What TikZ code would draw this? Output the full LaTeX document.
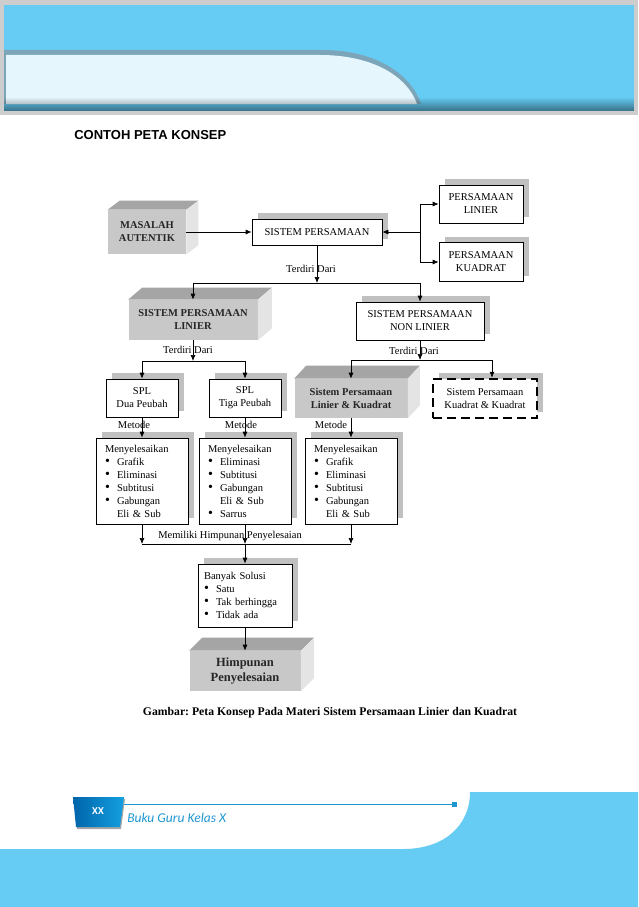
\documentclass[tikz,border=0pt]{standalone}
\usepackage{fontspec}
\setmainfont{Liberation Serif}
\newfontfamily\titlefont{Liberation Sans}
\newfontfamily\footfont{Carlito}
\usetikzlibrary{arrows.meta,shadows,fadings}
\definecolor{headblue}{RGB}{102,204,244}
\definecolor{headpale}{RGB}{230,246,253}
\definecolor{headedge}{RGB}{125,165,185}
\definecolor{framegray}{RGB}{205,205,205}
\definecolor{shadowgray}{RGB}{192,192,192}
\definecolor{cubefront}{RGB}{200,200,200}
\definecolor{cubetop}{RGB}{165,165,165}
\definecolor{cubeside}{RGB}{228,228,228}
\definecolor{badgedark}{RGB}{0,100,170}
\definecolor{badgelight}{RGB}{20,160,225}
\definecolor{footline}{RGB}{30,150,210}
\newcommand{\bitem}{\makebox[12pt][l]{\fontsize{14}{13}\selectfont\textbullet}}
\frenchspacing

\begin{document}
\begin{tikzpicture}[
    x=1pt, y=-1pt,
    line width=0.7pt,
    box/.style={draw, fill=white, align=center, inner sep=0pt,
      font=\fontsize{10.5}{13}\selectfont,
      general shadow={fill=shadowgray, shadow xshift=6pt, shadow yshift=6pt}},
    listbox/.style={box, align=left, text width=74pt, inner xsep=9pt, minimum height=86pt},
    dashbox/.style={box, line width=2.5pt, dash pattern=on 9pt off 5pt},
    cube/.style={fill=cubefront, align=center, inner sep=0pt, text=black!85,
      font=\bfseries\fontsize{10.5}{13}\selectfont},
    lbl/.style={inner sep=1pt, font=\fontsize{10.5}{13}\selectfont},
    arr/.style={-{Latex[length=6pt, width=5pt]}}
  ]
  \useasboundingbox (0,0) rectangle (638,907);
  % header
  \fill[framegray] (0,0) rectangle (638,115);
  \fill[headblue] (4,5) rectangle (634,111);
  \fill[headedge] (4,50) -- (322,50) .. controls (378,50) and (412,76) .. (421,104) -- (4,104) -- cycle;
  \fill[headpale] (6,55) -- (320,55) .. controls (375,55) and (408,78) .. (417,104) -- (6,104) -- cycle;
  \fill[black, opacity=0.45, path fading=north] (4,97) rectangle (634,111);
  \node (title) [anchor=west, inner sep=0pt, font=\titlefont\bfseries\fontsize{13}{15}\selectfont] at (74, 135) {CONTOH PETA KONSEP};

  % top row
  \node (masalah) [cube, minimum width=78pt, minimum height=44pt] at (147, 232) {MASALAH\\AUTENTIK};
  \fill[cubetop] (masalah.north west) -- ++(12pt,9pt) -- ([shift={(12pt,9pt)}]masalah.north east) -- (masalah.north east) -- cycle;
  \fill[cubeside] (masalah.north east) -- ++(12pt,9pt) -- ([shift={(12pt,9pt)}]masalah.south east) -- (masalah.south east) -- cycle;
  \node (sp) [box, minimum width=130pt, minimum height=26pt] at (317, 232) {SISTEM PERSAMAAN};
  \node (pl) [box, minimum width=84pt, minimum height=38pt] at (481, 204) {PERSAMAAN\\LINIER};
  \node (pk) [box, minimum width=84pt, minimum height=39pt] at (481, 262) {PERSAMAAN\\KUADRAT};

  % second row
  \node (spl) [cube, minimum width=129pt, minimum height=40pt] at (193, 320) {SISTEM PERSAMAAN\\LINIER};
  \fill[cubetop] (spl.north west) -- ++(14pt,12pt) -- ([shift={(14pt,12pt)}]spl.north east) -- (spl.north east) -- cycle;
  \fill[cubeside] (spl.north east) -- ++(14pt,12pt) -- ([shift={(14pt,12pt)}]spl.south east) -- (spl.south east) -- cycle;
  \node (spnl) [box, minimum width=128pt, minimum height=38pt] at (420, 321) {SISTEM PERSAMAAN\\NON LINIER};

  % third row
  \node (dua) [box, minimum width=72pt, minimum height=38pt] at (142, 398) {SPL\\Dua Peubah};
  \node (tiga) [box, minimum width=72pt, minimum height=38pt] at (245, 398) {SPL\\Tiga Peubah};
  \node (splk) [cube, minimum width=113pt, minimum height=39pt] at (351, 398.5) {Sistem Persamaan\\Linier \& Kuadrat};
  \fill[cubetop] (splk.north west) -- ++(12pt,13pt) -- ([shift={(12pt,13pt)}]splk.north east) -- (splk.north east) -- cycle;
  \fill[cubeside] (splk.north east) -- ++(12pt,13pt) -- ([shift={(12pt,13pt)}]splk.south east) -- (splk.south east) -- cycle;
  \node (skk) [dashbox, minimum width=104pt, minimum height=39pt] at (485, 398.5) {Sistem Persamaan\\Kuadrat \& Kuadrat};

  % methods
  \node (m1) [listbox] at (142, 481) {Menyelesaikan\\ \bitem Grafik\\ \bitem Eliminasi\\ \bitem Subtitusi\\ \bitem Gabungan\\ \hspace*{12pt}Eli \& Sub};
  \node (m2) [listbox] at (245, 481) {Menyelesaikan\\ \bitem Eliminasi\\ \bitem Subtitusi\\ \bitem Gabungan\\ \hspace*{12pt}Eli \& Sub\\ \bitem Sarrus};
  \node (m3) [listbox] at (351, 481) {Menyelesaikan\\ \bitem Grafik\\ \bitem Eliminasi\\ \bitem Subtitusi\\ \bitem Gabungan\\ \hspace*{12pt}Eli \& Sub};

  % result
  \node (sol) [box, align=left, text width=82pt, inner xsep=6pt, minimum height=63pt] at (245, 595.5) {Banyak Solusi\\ \bitem Satu\\ \bitem Tak berhingga\\ \bitem Tidak ada};
  \node (himp) [cube, minimum width=111pt, minimum height=40pt, font=\bfseries\fontsize{12.5}{15}\selectfont] at (245, 671) {Himpunan\\Penyelesaian};
  \fill[cubetop] (himp.north west) -- ++(13pt,13pt) -- ([shift={(13pt,13pt)}]himp.north east) -- (himp.north east) -- cycle;
  \fill[cubeside] (himp.north east) -- ++(13pt,13pt) -- ([shift={(13pt,13pt)}]himp.south east) -- (himp.south east) -- cycle;

  % junctions
  \coordinate (jr) at (420, 232);
  \coordinate (j1) at (317, 283);
  \coordinate (j2) at (193, 361);
  \coordinate (j3) at (420, 360);
  \coordinate (j4) at (245, 544);
  \coordinate (skktop) at ([xshift=7pt]skk.north);

  \draw[arr] (masalah) -- (sp);
  \draw (pl.west -| jr) -- (pk.west -| jr);
  \draw[arr] (jr) -- (sp);
  \draw[arr] (pl.west -| jr) -- (pl);
  \draw[arr] (pk.west -| jr) -- (pk);
  \draw[arr] (sp) -- (j1);
  \draw (spl.north |- j1) -- (spnl.north |- j1);
  \draw[arr] (spl.north |- j1) -- (spl.north);
  \draw[arr] (spnl.north |- j1) -- (spnl);
  \draw[arr] (spl) -- (j2);
  \draw (dua.north |- j2) -- (tiga.north |- j2);
  \draw[arr] (dua.north |- j2) -- (dua);
  \draw[arr] (tiga.north |- j2) -- (tiga);
  \draw[arr] (spnl) -- (j3);
  \draw (splk.north |- j3) -- (skktop |- j3);
  \draw[arr] (splk.north |- j3) -- (splk.north);
  \draw[arr] (skktop |- j3) -- (skktop);
  \draw[arr] (dua) -- (m1);
  \draw[arr] (tiga) -- (m2);
  \draw[arr] (splk) -- (m3);
  \draw[arr] (m1) -- (m1 |- j4);
  \draw[arr] (m2) -- (j4);
  \draw[arr] (m3) -- (m3 |- j4);
  \draw (m1 |- j4) -- (m3 |- j4);
  \draw[arr] (j4) -- (sol);
  \draw[arr] (sol) -- (himp.north);

  % labels
  \node (td1) [lbl] at (311, 269) {Terdiri Dari};
  \node (td2) [lbl] at (188, 350) {Terdiri Dari};
  \node (td3) [lbl] at (414, 351) {Terdiri Dari};
  \node (mt1) [lbl] at (134, 425) {Metode};
  \node (mt2) [lbl] at (241, 425) {Metode};
  \node (mt3) [lbl] at (331, 425) {Metode};
  \node (mhp) [lbl] at (230, 536) {Memiliki Himpunan Penyelesaian};
  \node (caption) [font=\bfseries\fontsize{11.7}{14}\selectfont] at (330, 713) {Gambar: Peta Konsep Pada Materi Sistem Persamaan Linier dan Kuadrat};

  % footer
  \fill[headblue] (0,849) -- (403,849) .. controls (445,849) and (470,825) .. (470,792) -- (638,792) -- (638,907) -- (0,907) -- cycle;
  \fill[black!35] (74,799) -- (125,799) -- (121,829) -- (77,829) -- cycle;
  \shade[left color=badgedark, right color=badgelight] (73,797) -- (124,797) -- (120,827) -- (76,827) -- cycle;
  \node (xx) [text=white, font=\footfont\bfseries\fontsize{10.5}{12}\selectfont] at (98, 811) {XX};
  \coordinate (fl) at (124, 804);
  \coordinate (fr) at (454, 804);
  \draw[footline, line width=1pt] (fl) -- (fr);
  \fill[footline] ([shift={(-2.5pt,-2.5pt)}]fr) rectangle ([shift={(2.5pt,2.5pt)}]fr);
  \node (book) [anchor=west, inner sep=0pt, text=footline, font=\footfont\itshape\fontsize{13.5}{15}\selectfont] at (127, 818) {Buku Guru Kelas X};
\end{tikzpicture}
\end{document}
